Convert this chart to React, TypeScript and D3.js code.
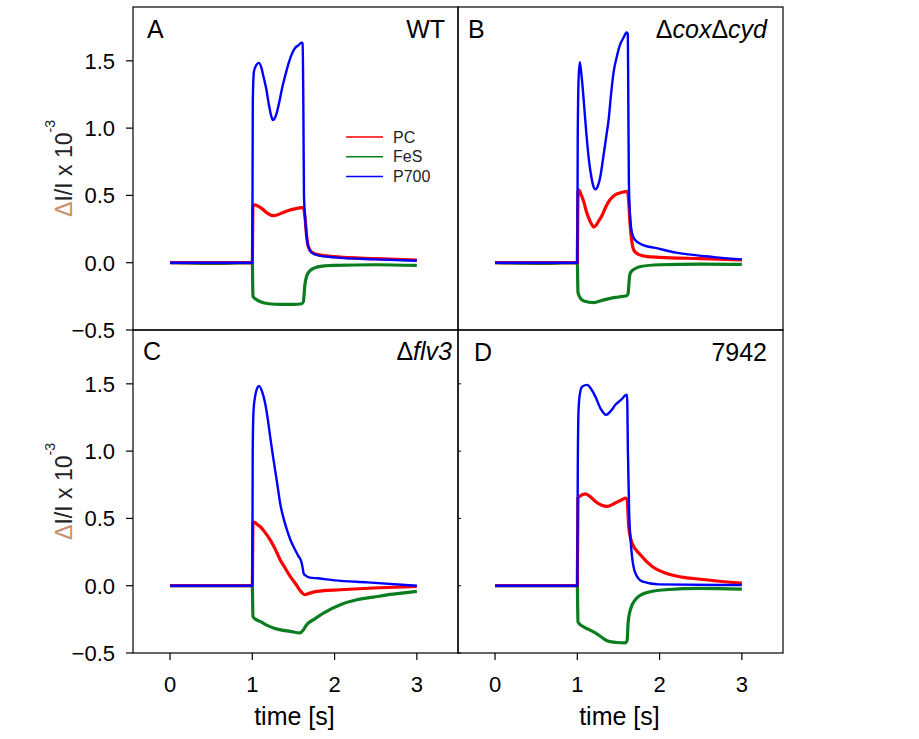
import React from 'react';
import * as d3 from 'd3';

// ---------- data (time [s], ΔI/I x 10^-3) ----------
const SERIES_NAMES = ['PC', 'FeS', 'P700'];
const SERIES_COLORS = ['#ff0000', '#0a7d1e', '#0000ff'];
const Y_TICKS = [-0.5, 0.0, 0.5, 1.0, 1.5];
const X_TICKS = [0, 1, 2, 3];

const A_PC = [[0,0],[0.5,0],[1.0,0],[1.008,0.42],[1.03,0.43],[1.07,0.42],[1.12,0.4],[1.18,0.37],[1.25,0.35],[1.3,0.355],[1.38,0.375],[1.45,0.39],[1.52,0.4],[1.6,0.41],[1.62,0.41],[1.64,0.34],[1.66,0.2],[1.68,0.12],[1.72,0.08],[1.8,0.06],[2.0,0.045],[2.5,0.03],[3.0,0.02]];
const A_FeS = [[0,0],[0.5,-0.005],[1.0,0],[1.008,-0.25],[1.04,-0.27],[1.1,-0.29],[1.2,-0.305],[1.35,-0.31],[1.5,-0.31],[1.6,-0.305],[1.62,-0.29],[1.64,-0.16],[1.66,-0.1],[1.7,-0.06],[1.75,-0.04],[1.85,-0.025],[2.0,-0.02],[2.5,-0.015],[3.0,-0.02]];
const A_P700 = [[0,0],[0.5,0],[1.0,0],[1.006,1.2],[1.02,1.42],[1.05,1.47],[1.08,1.485],[1.11,1.45],[1.135,1.385],[1.17,1.29],[1.2,1.18],[1.23,1.09],[1.25,1.06],[1.27,1.07],[1.3,1.12],[1.33,1.2],[1.36,1.29],[1.4,1.39],[1.44,1.48],[1.48,1.55],[1.52,1.595],[1.56,1.615],[1.6,1.635],[1.612,1.63],[1.62,1.2],[1.628,0.5],[1.64,0.35],[1.66,0.2],[1.68,0.12],[1.72,0.075],[1.8,0.055],[2.0,0.04],[2.5,0.025],[3.0,0.015]];

const B_PC = [[0,0],[0.5,0],[1.0,0],[1.008,0.52],[1.02,0.54],[1.05,0.5],[1.08,0.45],[1.11,0.38],[1.14,0.33],[1.17,0.29],[1.2,0.265],[1.23,0.28],[1.27,0.32],[1.3,0.35],[1.35,0.42],[1.4,0.47],[1.45,0.5],[1.5,0.515],[1.56,0.525],[1.61,0.53],[1.625,0.45],[1.64,0.3],[1.66,0.17],[1.69,0.09],[1.75,0.06],[1.85,0.045],[2.0,0.04],[2.5,0.03],[3.0,0.02]];
const B_FeS = [[0,0],[0.5,-0.005],[1.0,0],[1.008,-0.22],[1.04,-0.265],[1.08,-0.285],[1.2,-0.297],[1.3,-0.28],[1.4,-0.265],[1.5,-0.255],[1.6,-0.245],[1.617,-0.23],[1.635,-0.1],[1.65,-0.07],[1.7,-0.045],[1.77,-0.028],[2.0,-0.015],[2.5,-0.01],[3.0,-0.013]];
const B_P700 = [[0,0],[0.5,0],[1.0,0],[1.005,0.9],[1.015,1.35],[1.03,1.49],[1.05,1.4],[1.08,1.19],[1.11,0.96],[1.14,0.77],[1.17,0.64],[1.2,0.56],[1.22,0.545],[1.25,0.57],[1.28,0.64],[1.31,0.76],[1.35,0.93],[1.38,1.06],[1.41,1.25],[1.44,1.41],[1.48,1.53],[1.52,1.62],[1.56,1.67],[1.6,1.71],[1.614,1.7],[1.62,1.2],[1.627,0.6],[1.64,0.36],[1.665,0.22],[1.7,0.17],[1.8,0.13],[1.95,0.11],[2.2,0.075],[2.35,0.062],[2.7,0.04],[3.0,0.025]];

const C_PC = [[0,0],[0.5,0],[1.0,0],[1.008,0.47],[1.03,0.47],[1.06,0.455],[1.095,0.44],[1.15,0.4],[1.217,0.341],[1.28,0.27],[1.338,0.193],[1.4,0.13],[1.46,0.069],[1.52,0.02],[1.56,-0.017],[1.6,-0.05],[1.64,-0.067],[1.7,-0.055],[1.785,-0.042],[2.07,-0.03],[2.47,-0.017],[3.0,-0.005]];
const C_FeS = [[0,0],[0.5,0],[1.0,0],[1.008,-0.23],[1.04,-0.25],[1.095,-0.265],[1.18,-0.295],[1.257,-0.314],[1.36,-0.33],[1.46,-0.339],[1.58,-0.351],[1.62,-0.33],[1.66,-0.29],[1.75,-0.25],[1.865,-0.203],[2.07,-0.141],[2.27,-0.104],[2.47,-0.085],[2.68,-0.065],[3.0,-0.042]];
const C_P700 = [[0,0],[0.5,0],[1.0,0],[1.005,1.0],[1.015,1.3],[1.035,1.41],[1.06,1.47],[1.08,1.485],[1.12,1.44],[1.156,1.356],[1.19,1.23],[1.217,1.108],[1.247,0.98],[1.277,0.861],[1.31,0.73],[1.338,0.614],[1.38,0.5],[1.42,0.416],[1.47,0.33],[1.52,0.267],[1.56,0.22],[1.595,0.18],[1.61,0.14],[1.625,0.09],[1.65,0.075],[1.7,0.06],[1.8,0.055],[2.0,0.04],[2.4,0.025],[3.0,0.0]];

const D_PC = [[0,0],[0.5,0],[1.0,0],[1.008,0.65],[1.03,0.665],[1.1,0.683],[1.16,0.66],[1.22,0.626],[1.29,0.6],[1.36,0.589],[1.46,0.614],[1.53,0.635],[1.585,0.651],[1.605,0.64],[1.625,0.44],[1.665,0.317],[1.766,0.23],[1.91,0.143],[2.07,0.094],[2.27,0.064],[2.47,0.05],[2.7,0.035],[3.0,0.02]];
const D_FeS = [[0,0],[0.5,0],[1.0,0],[1.008,-0.27],[1.06,-0.3],[1.14,-0.325],[1.22,-0.351],[1.3,-0.385],[1.38,-0.413],[1.48,-0.422],[1.58,-0.425],[1.605,-0.41],[1.617,-0.277],[1.645,-0.178],[1.705,-0.104],[1.827,-0.054],[2.07,-0.03],[2.5,-0.02],[3.0,-0.025]];
const D_P700 = [[0,0],[0.5,0],[1.0,0],[1.006,0.9],[1.015,1.3],[1.03,1.42],[1.06,1.48],[1.12,1.492],[1.17,1.46],[1.22,1.405],[1.28,1.32],[1.35,1.27],[1.41,1.3],[1.463,1.344],[1.53,1.38],[1.593,1.418],[1.605,1.42],[1.615,1.0],[1.63,0.55],[1.65,0.32],[1.665,0.218],[1.705,0.094],[1.787,0.032],[1.99,0.01],[3.0,0.005]];

// ---------- layout ----------
const W = 919, H = 739;
const PW = 325, PH = 323;
const FONT = '"Liberation Sans", Arial, Helvetica, sans-serif';

type Seg = { t: string; i?: boolean };
const PANELS = [
  { letter: 'A', left: 133, top: 7, lx: 14, rx: 13, base: 31, title: [{ t: 'WT' }] as Seg[], yAxis: true, xAxis: false, legend: true, inner: false, series: [A_PC, A_FeS, A_P700] },
  { letter: 'B', left: 458, top: 7, lx: 10, rx: 16, base: 31, title: [{ t: 'Δ' }, { t: 'cox', i: true }, { t: 'Δ' }, { t: 'cyd', i: true }] as Seg[], yAxis: false, xAxis: false, legend: false, inner: false, series: [B_PC, B_FeS, B_P700] },
  { letter: 'C', left: 133, top: 330, lx: 10, rx: 6, base: 30, title: [{ t: 'Δ' }, { t: 'flv3', i: true }] as Seg[], yAxis: true, xAxis: true, legend: false, inner: false, series: [C_PC, C_FeS, C_P700] },
  { letter: 'D', left: 458, top: 330, lx: 16, rx: 16, base: 31, title: [{ t: '7942' }] as Seg[], yAxis: false, xAxis: true, legend: false, inner: true, series: [D_PC, D_FeS, D_P700] },
];

const x = d3.scaleLinear().domain([-0.45, 3.5]).range([0, PW]);
const y = d3.scaleLinear().domain([-0.5, 1.9]).range([PH, 0]);
const line = d3.line<number[]>().x(d => x(d[0])).y(d => y(d[1])).curve(d3.curveMonotoneX);
const fmt = d3.format('.1f');

function Panel({ p }: { p: typeof PANELS[number] }) {
  const order = [1, 0, 2];
  return (
    <g transform={`translate(${p.left},${p.top})`}>
      {order.map(i => (
        <path key={i} d={line(p.series[i] as number[][]) || ''} fill="none" stroke={SERIES_COLORS[i]}
          strokeWidth={i === 2 ? 2.4 : 3.2} strokeLinejoin="round" />
      ))}
      <rect x={0} y={0} width={PW} height={PH} fill="none" stroke="#000" strokeWidth={1.2} />
      {p.yAxis && Y_TICKS.map(v => (
        <g key={v} transform={`translate(0,${y(v)})`}>
          <line x1={-7} x2={0} stroke="#000" strokeWidth={1.2} />
          <text x={-18} y={8} textAnchor="end" fontSize={22} fontFamily={FONT} fill="#000">{fmt(v)}</text>
        </g>
      ))}
      {p.inner && Y_TICKS.map(v => (
        <line key={v} x1={0} x2={3} y1={y(v)} y2={y(v)} stroke="#000" strokeWidth={1} />
      ))}
      {p.xAxis && X_TICKS.map(t => (
        <g key={t} transform={`translate(${x(t)},${PH})`}>
          <line y1={0} y2={7} stroke="#000" strokeWidth={1.2} />
          <text y={39} textAnchor="middle" fontSize={22} fontFamily={FONT} fill="#000">{t}</text>
        </g>
      ))}
      {p.xAxis && (
        <text x={(x(0) + x(3)) / 2 + 1} y={395} textAnchor="middle" fontSize={25} fontFamily={FONT} fill="#000">time [s]</text>
      )}
      {p.yAxis && (
        <text transform={`translate(${72 - p.left},${PH / 2}) rotate(-90)`} textAnchor="middle" fontSize={23} fontFamily={FONT} fill="#222">
          <tspan fill="#c8906a">Δ</tspan>
          <tspan>I/I x 10</tspan>
          <tspan fontSize={14} dy={-17}>-3</tspan>
        </text>
      )}
      <text x={p.lx} y={p.base} fontSize={25} fontFamily={FONT} fill="#000">{p.letter}</text>
      <text x={PW - p.rx} y={p.base} textAnchor="end" fontSize={25} fontFamily={FONT} fill="#000">
        {p.title.map((s, k) => (
          <tspan key={k} fontStyle={s.i ? 'italic' : 'normal'}>{s.t}</tspan>
        ))}
      </text>
      {p.legend && SERIES_NAMES.map((n, i) => (
        <g key={n} transform={`translate(213,${130 + i * 19.7})`}>
          <line x1={0} x2={37} stroke={SERIES_COLORS[i]} strokeWidth={1.5} />
          <text x={47} y={5.5} fontSize={16} fontFamily={FONT} fill="#222">{n}</text>
        </g>
      ))}
    </g>
  );
}

export default function App() {
  return (
    <svg width={W} height={H} style={{ position: 'absolute', left: 0, top: 0, background: '#fff' }}>
      <rect width={W} height={H} fill="#fff" />
      {PANELS.map(p => <Panel key={p.letter} p={p} />)}
    </svg>
  );
}
